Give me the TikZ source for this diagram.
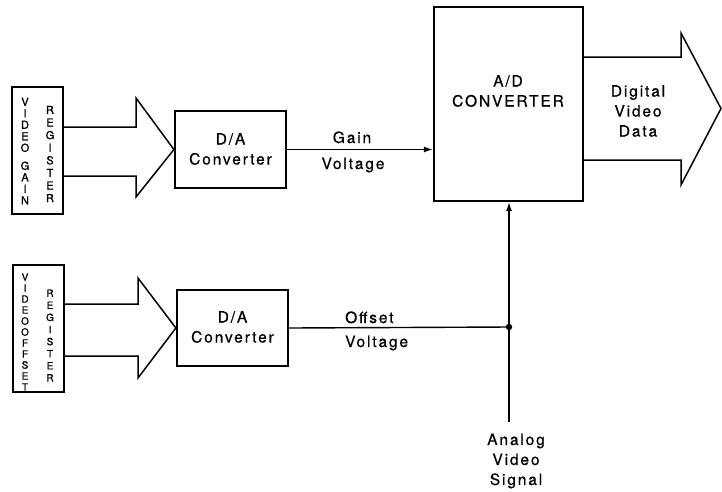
\documentclass[tikz,border=0pt]{standalone}
\usepackage{fontspec}
\setmainfont{TeX Gyre Heros}[LetterSpace=12,FakeBold=0.6]
\newfontfamily\regfont{TeX Gyre Heros}[FakeBold=1]
\usetikzlibrary{arrows.meta}
\tikzset{
  blk/.style={draw, line width=2.2pt, inner sep=0pt},
  lbl/.style={font=\fontsize{15.5}{20}\selectfont, align=center, inner sep=0pt},
  regtxt/.style={font=\regfont\fontsize{11}{11.5}\selectfont, align=center, inner sep=0pt},
  fat/.style={line width=1.5pt, line join=miter},
  wire/.style={line width=1.4pt},
  tip/.style={-{Latex[length=9pt,width=6pt]}}
}
\begin{document}
\begin{tikzpicture}[x=1pt,y=-1pt]
\useasboundingbox (0,0) rectangle (722,491);
% blocks
\node[blk, minimum width=51pt, minimum height=127pt] (greg) at (37.5,150.5) {};
\node[blk, minimum width=51pt, minimum height=127pt] (oreg) at (38.5,328.5) {};
\node[blk, minimum width=111pt, minimum height=77pt] (da1) at (230.5,149.5) {};
\node[blk, minimum width=111pt, minimum height=76pt] (da2) at (232.5,328) {};
\node[blk, minimum width=149pt, minimum height=194pt] (ad) at (508.5,104) {};
% register texts
\node[regtxt] (g1) at (25,151) {V\\I\\D\\E\\O\\[6.5pt]G\\A\\I\\N};
\node[regtxt, font=\regfont\fontsize{11}{12.6}\selectfont] (g2) at (50,154) {R\\E\\G\\I\\S\\T\\E\\R};
\node[regtxt, font=\regfont\fontsize{10}{11}\selectfont] (o1) at (25,332) {V\\I\\D\\E\\O\\O\\F\\F\\S\\E\\T};
\node[regtxt, font=\regfont\fontsize{10}{12.1}\selectfont] (o2) at (50,335.5) {R\\E\\G\\I\\S\\T\\E\\R};
% block texts
\node[lbl] (t1) at (230.5,149) {D/A\\Converter};
\node[lbl] (t2) at (232.5,327) {D/A\\Converter};
\node[lbl] (t3) at (508,91) {A/D\\CONVERTER};
\node[lbl] (t4) at (638,111) {Digital\\Video\\Data};
\node[lbl] (t5) at (516,461) {Analog\\Video\\Signal};
\node[lbl, anchor=base] (gl) at (352,143) {Gain};
\node[lbl, anchor=base] (gv) at (353,169) {Voltage};
\node[lbl, anchor=base west] (ol) at (345,323) {Offset};
\node[lbl, anchor=base west] (ov) at (345,347) {Voltage};
% hollow arrows
\draw[fat] (greg.east |- 0,127) -- (136,127) -- (136,98) -- (da1.west) -- (136,197) -- (136,176) -- (greg.east |- 0,176);
\draw[fat] (oreg.east |- 0,304) -- (138,304) -- (138,278) -- (da2.west) -- (138,378) -- (138,356) -- (oreg.east |- 0,356);
\coordinate (out) at (721,108.5);
\draw[fat] (ad.east |- 0,57) -- (681,57) -- (681,33) -- (out) -- (681,185) -- (681,160) -- (ad.east |- 0,160);
% wires
\draw[wire, tip] (da1.east) -- (da1.east -| ad.west);
\coordinate (j) at (509,327);
\coordinate (src) at (509,422);
\draw[wire] (da2.east) -- (j);
\draw[wire, tip] (src) -- (j) -- (j |- ad.south);
\fill (j) circle (3.2pt);
\end{tikzpicture}
\end{document}
